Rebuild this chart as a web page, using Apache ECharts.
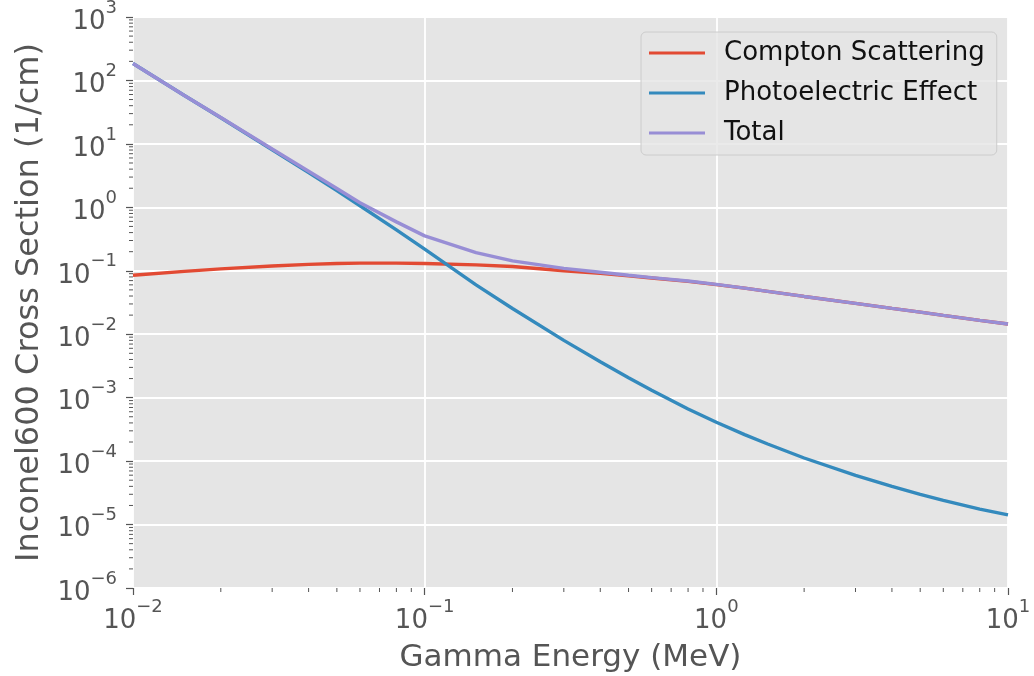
<!DOCTYPE html>
<html>
<head>
<meta charset="utf-8">
<script src="https://cdn.jsdelivr.net/npm/echarts@6/dist/echarts.min.js"></script>
<style>
html,body{margin:0;padding:0;background:#fff;}
#chart{width:1034px;height:676px;}
</style>
</head>
<body>
<div id="chart"></div>
<script>
// Gamma energy (MeV)
var energies = [0.01, 0.015, 0.02, 0.03, 0.04, 0.05, 0.06, 0.08, 0.1, 0.15, 0.2, 0.3, 0.4, 0.5, 0.6, 0.8, 1, 1.25, 1.5, 2, 3, 4, 5, 6, 8, 10];
// Cross sections (1/cm)
var compton = [0.085, 0.098, 0.107, 0.119, 0.126, 0.130, 0.132, 0.132, 0.130, 0.124, 0.117, 0.100, 0.091, 0.083, 0.077, 0.068, 0.0605, 0.0532, 0.0474, 0.0394, 0.0306, 0.0255, 0.0223, 0.0198, 0.0165, 0.0145];
var photoelectric = [185, 57.8, 25.8, 8.1, 3.53, 1.83, 1.06, 0.44, 0.22, 0.060, 0.0254, 0.0080, 0.00368, 0.00206, 0.00131, 0.000664, 0.00041, 0.000262, 0.000186, 0.000112, 0.0000598, 0.000040, 0.0000299, 0.000024, 0.0000175, 0.0000142];
var total = [185, 58, 26, 8.3, 3.7, 1.98, 1.18, 0.59, 0.355, 0.193, 0.143, 0.109, 0.095, 0.085, 0.078, 0.069, 0.061, 0.0532, 0.0474, 0.0394, 0.0306, 0.0255, 0.0223, 0.0198, 0.0165, 0.0145];
var seriesNames = ['Compton Scattering', 'Photoelectric Effect', 'Total'];
var seriesColors = ['#E24A33', '#348ABD', '#988ED5'];
var xRange = [0.01, 10];
var yRange = [1e-6, 1e3];

function pairs(xs, ys) { return xs.map(function (x, i) { return [x, ys[i]]; }); }
function minorTicks(lo, hi) {
  var out = [];
  for (var d = Math.round(Math.log10(lo)); d < Math.round(Math.log10(hi)); d++) {
    for (var k = 2; k <= 9; k++) out.push(k * Math.pow(10, d));
  }
  return out;
}
var xMinor = minorTicks(xRange[0], xRange[1]);
var yMinor = minorTicks(yRange[0], yRange[1]);

function logLabel(v) {
  var e = Math.round(Math.log10(v));
  var s = e < 0 ? '\u2212' + (-e) : String(e);
  return '{b|10}{s|' + s + '}';
}
var labelRich = {
  b: { fontSize: 26, color: '#555555', fontFamily: 'DejaVu Sans', lineHeight: 36, verticalAlign: 'bottom' },
  s: { fontSize: 18, color: '#555555', fontFamily: 'DejaVu Sans', lineHeight: 20, verticalAlign: 'top' }
};

var chart = echarts.init(document.getElementById('chart'), null, { renderer: 'canvas' });
var lineSeries = seriesNames.map(function (n, i) {
  var ys = [compton, photoelectric, total][i];
  return {
    name: n, type: 'line', data: pairs(energies, ys),
    showSymbol: false, symbol: 'none', smooth: false,
    lineStyle: { color: seriesColors[i], width: 3.4 },
    itemStyle: { color: seriesColors[i] },
    z: 3 + i, silent: true, animation: false
  };
});

var option = {
  animation: false,
  backgroundColor: '#ffffff',
  grid: { left: 133, right: 26, top: 17, bottom: 88, show: true, backgroundColor: '#E5E5E5', borderWidth: 0, containLabel: false, outerBoundsMode: 'none' },
  legend: {
    data: seriesNames,
    left: 641, top: 32,
    orient: 'vertical',
    backgroundColor: 'rgba(229,229,229,0.8)',
    borderColor: '#cccccc', borderWidth: 1, borderRadius: 5,
    padding: [8, 12, 9, 8],
    itemWidth: 56, itemHeight: 3, itemGap: 14,
    icon: 'rect',
    textStyle: { fontSize: 26, color: '#111111', fontFamily: 'DejaVu Sans', padding: [0, 0, 0, 14], lineHeight: 26 }
  },
  xAxis: {
    type: 'log', logBase: 10, min: xRange[0], max: xRange[1], splitNumber: 3,
    name: 'Gamma Energy (MeV)', nameLocation: 'middle', nameGap: 54,
    nameTextStyle: { fontSize: 31, color: '#555555', fontFamily: 'DejaVu Sans' },
    axisLine: { show: false },
    axisTick: { show: true, inside: false, length: 7, lineStyle: { color: '#555555', width: 1.2 } },
    axisLabel: { margin: 10, formatter: logLabel, rich: labelRich, showMaxLabel: true, showMinLabel: true },
    splitLine: { show: true, lineStyle: { color: '#ffffff', width: 1.8 } },
    minorTick: { show: false }
  },
  yAxis: {
    type: 'log', logBase: 10, min: yRange[0], max: yRange[1], splitNumber: 9,
    name: 'Inconel600 Cross Section (1/cm)', nameLocation: 'middle', nameGap: 87, nameRotate: 90,
    nameTextStyle: { fontSize: 32, color: '#555555', fontFamily: 'DejaVu Sans' },
    axisLine: { show: false },
    axisTick: { show: true, inside: false, length: 7, lineStyle: { color: '#555555', width: 1.2 } },
    axisLabel: { margin: 16, formatter: logLabel, rich: labelRich, showMaxLabel: true, showMinLabel: true },
    splitLine: { show: true, lineStyle: { color: '#ffffff', width: 1.8 } },
    minorTick: { show: false }
  },
  series: lineSeries.concat([
    {
      type: 'custom', name: 'xminor', silent: true, clip: false, z: 10,
      data: xMinor.map(function (v) { return [v, yRange[0]]; }),
      renderItem: function (params, api) {
        var p = api.coord([api.value(0), api.value(1)]);
        return { type: 'line', shape: { x1: p[0], y1: p[1], x2: p[0], y2: p[1] + 4 }, style: { stroke: '#555555', lineWidth: 1 } };
      }
    },
    {
      type: 'custom', name: 'yminor', silent: true, clip: false, z: 10,
      data: yMinor.map(function (v) { return [xRange[0], v]; }),
      renderItem: function (params, api) {
        var p = api.coord([api.value(0), api.value(1)]);
        return { type: 'line', shape: { x1: p[0], y1: p[1], x2: p[0] - 4, y2: p[1] }, style: { stroke: '#555555', lineWidth: 1 } };
      }
    }
  ])
};
chart.setOption(option);
</script>
</body>
</html>
